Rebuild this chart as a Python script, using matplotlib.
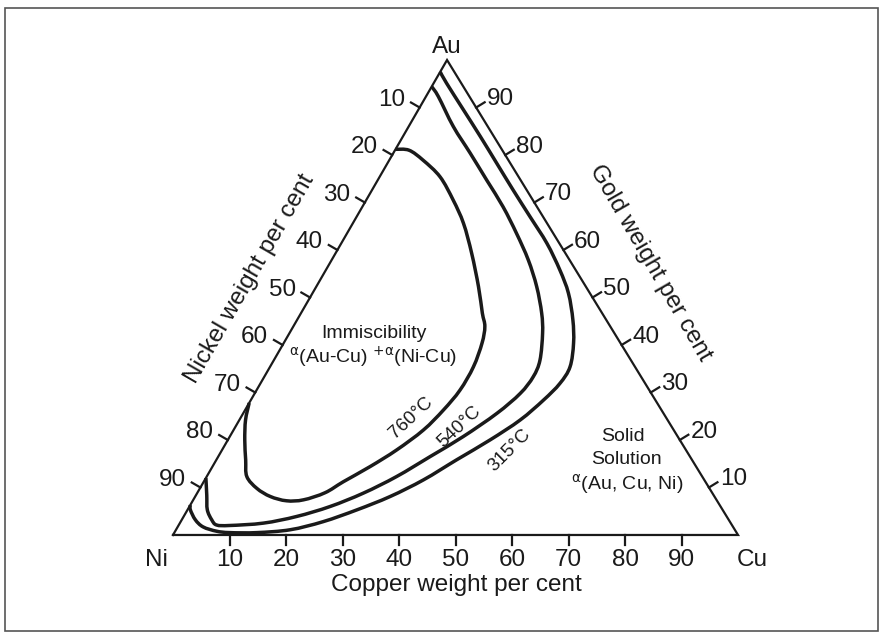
import numpy as np
import matplotlib.pyplot as plt
from matplotlib.patches import Rectangle, PathPatch
from matplotlib.path import Path

plt.rcParams['font.family'] = ['Liberation Sans', 'DejaVu Sans']

# Isotherms bounding the two-phase region, as wt% Cu and wt% Au (rest is Ni)
cu_760 = [0, 2.5, 6.0, 10.7, 15.4, 19.6, 24.1, 28.7, 32.1, 33.9, 35.1, 36.0, 36.0,
          35.1, 33.6, 30.9, 27.9, 24.7, 22.6, 19.5, 16.6, 13.3, 10.1, 7.1, 5.2,
          3.0, 1.1, 0]
au_760 = [81.2, 81.0, 78.9, 75.4, 70.5, 65.6, 59.3, 52.3, 46.7, 43.9, 40.4, 35.4,
          30.5, 26.3, 22.1, 17.9, 14.4, 11.2, 8.9, 7.4, 7.2, 8.1, 9.8, 12.3, 15.8,
          20.0, 24.2, 27.8]

cu_540 = [0, 2.2, 7.9, 13.6, 19.3, 24.9, 30.0, 34.8, 39.0, 42.6, 44.8, 47.1, 47.6,
          47.0, 44.9, 41.3, 37.5, 33.6, 29.4, 24.9, 20.0, 14.8, 9.1, 6.7, 5.3,
          3.5, 1.9, 0]
au_540 = [94.4, 92.3, 86.0, 80.4, 74.7, 69.1, 63.5, 57.9, 52.3, 46.7, 42.5, 36.8,
          33.3, 29.8, 25.6, 20.7, 16.5, 12.3, 8.8, 6.0, 3.9, 2.5, 2.0, 2.1, 3.2,
          5.3, 8.4, 12.0]

cu_315 = [0, 2.3, 8.0, 13.7, 19.3, 25.0, 30.7, 36.4, 41.4, 45.3, 48.8, 51.3, 53.1,
          53.0, 51.8, 49.7, 46.4, 42.5, 38.7, 34.5, 30.0, 25.2, 20.2, 14.6, 9.8,
          7.3, 4.5, 2.4, 0.5, 0]
au_315 = [97.5, 95.1, 89.5, 83.9, 78.3, 72.6, 67.0, 61.4, 55.8, 50.9, 45.3, 40.4,
          35.4, 31.9, 28.4, 24.2, 20.0, 15.8, 11.6, 8.1, 5.3, 2.8, 1.1, 0.5, 0.5,
          0.8, 1.7, 3.2, 5.3, 6.3]

tick_values = [10, 20, 30, 40, 50, 60, 70, 80, 90]

# gold apex in plot units; Ni sits at (0, 0) and Cu at (100, 0)
AU_X, AU_Y = 48.5, 84.07
TICK = 1.77
FS_AX = 17.5
FS_IN = 14


def tern(cu, au):
    cu = np.asarray(cu, dtype=float)
    au = np.asarray(au, dtype=float)
    return cu + au * AU_X / 100, au * AU_Y / 100


def smooth_path(x, y):
    # cubic Bezier through every point (Catmull-Rom tangents)
    p = np.column_stack([x, y])
    ext = np.vstack([p[0], p, p[-1]])
    verts = [p[0]]
    codes = [Path.MOVETO]
    for i in range(len(p) - 1):
        p0, p1, p2, p3 = ext[i], ext[i + 1], ext[i + 2], ext[i + 3]
        verts += [p1 + (p2 - p0) / 6, p2 - (p3 - p1) / 6, p2]
        codes += [Path.CURVE4] * 3
    return Path(verts, codes)


fig = plt.figure(figsize=(8.83, 6.36), dpi=100)
ax = fig.add_axes([0, 0, 1, 1])
ax.set_xlim(-30.62, 125.66)
ax.set_ylim(-17.88, 94.69)
ax.axis('off')

# frame around the whole figure
fig.patches.append(Rectangle((5 / 883, 5 / 636), 873 / 883, 623 / 636,
                             transform=fig.transFigure, fill=False,
                             edgecolor='#555555', linewidth=1.2))

ink = '#1a1a1a'

# triangle
tx, ty = tern([0, 100, 0, 0], [0, 0, 100, 0])
ax.plot(tx, ty, color=ink, lw=1.6, solid_joinstyle='miter')

# bottom axis: copper
for v in tick_values:
    x, y = tern(v, 0)
    ax.plot([x, x], [y, y - TICK], color=ink, lw=1.6)
    ax.text(x, y - 4.4, str(v), ha='center', va='center', fontsize=FS_AX, color=ink)

# left axis: nickel (10 near the Au corner)
nl = np.array([-0.8662, 0.4997])
for v in tick_values:
    x, y = tern(0, 100 - v)
    ex, ey = x + TICK * nl[0], y + TICK * nl[1]
    ax.plot([x, ex], [y, ey], color=ink, lw=1.6)
    ax.text(ex - 1.0, ey + 0.5, str(v), ha='right', va='center', fontsize=FS_AX, color=ink)

# right axis: gold
nr = np.array([0.8527, 0.5224])
for v in tick_values:
    x, y = tern(100 - v, v)
    ex, ey = x + TICK * nr[0], y + TICK * nr[1]
    ax.plot([x, ex], [y, ey], color=ink, lw=1.6)
    ax.text(ex + 0.4, ey + 0.5, str(v), ha='left', va='center', fontsize=FS_AX, color=ink)

# isotherms
for cu, au in [(cu_760, au_760), (cu_540, au_540), (cu_315, au_315)]:
    x, y = tern(cu, au)
    ax.add_patch(PathPatch(smooth_path(x, y), fill=False, edgecolor=ink, lw=2.5,
                           joinstyle='round', capstyle='butt'))

# corner and axis names
ax.text(48.5, 86.3, 'Au', ha='center', va='center', fontsize=FS_AX, color=ink)
ax.text(-2.9, -4.4, 'Ni', ha='center', va='center', fontsize=FS_AX, color=ink)
ax.text(102.5, -4.4, 'Cu', ha='center', va='center', fontsize=FS_AX, color=ink)
ax.text(50.1, -8.9, 'Copper weight per cent', ha='center', va='center',
        fontsize=FS_AX, color=ink)
ax.text(13.6, 45.3, 'Nickel weight per cent', ha='center', va='center',
        rotation=60, rotation_mode='anchor', fontsize=FS_AX, color=ink)
ax.text(84.4, 48.1, 'Gold weight per cent', ha='center', va='center',
        rotation=-60, rotation_mode='anchor', fontsize=FS_AX, color=ink)

# phase field notes
ax.text(35.5, 35.6, 'Immiscibility', ha='center', va='center', fontsize=FS_IN, color=ink)
ax.text(35.5, 31.5, r'$^{\mathrm{\alpha}}$(Au-Cu) $^{+\mathrm{\alpha}}$(Ni-Cu)',
        ha='center', va='center', fontsize=FS_IN, color=ink)
ax.text(79.7, 17.4, 'Solid', ha='center', va='center', fontsize=FS_IN, color=ink)
ax.text(80.2, 13.3, 'Solution', ha='center', va='center', fontsize=FS_IN, color=ink)
ax.text(80.3, 9.1, r'$^{\mathrm{\alpha}}$(Au, Cu, Ni)', ha='center', va='center',
        fontsize=FS_IN, color=ink)

# isotherm labels
for (lx, ly, rot), t in zip([(42.1, 20.7, 43), (50.6, 19.1, 43), (59.6, 15.0, 45)],
                            ['760°C', '540°C', '315°C']):
    ax.text(lx, ly, t, ha='center', va='center', rotation=rot,
            rotation_mode='anchor', fontsize=13.5, color=ink)

fig.savefig('out.png', dpi=100)
